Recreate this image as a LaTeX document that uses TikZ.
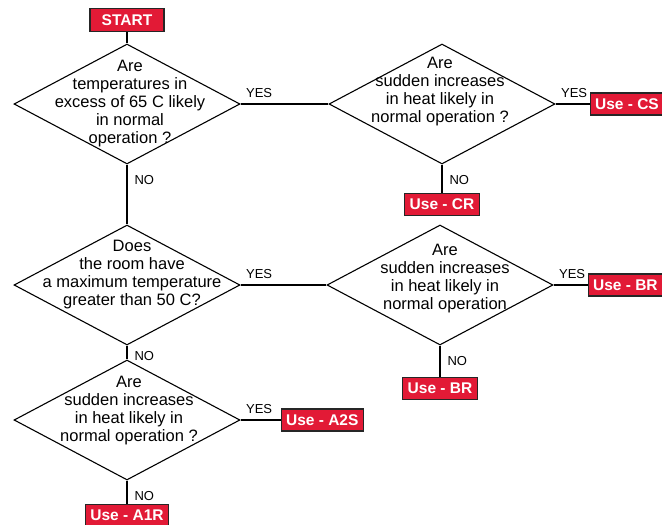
\documentclass[tikz,border=0pt]{standalone}
\usepackage{fontspec}
\setmainfont{Liberation Sans}
\usetikzlibrary{positioning, shapes.geometric}
\definecolor{boxred}{RGB}{226,26,54}

\begin{document}
\begin{tikzpicture}
[x=1pt, y=-1pt,
   decision/.style={shape=diamond, draw, line width=1.1pt, minimum width=226pt,
     minimum height=120pt, inner sep=0pt},
   question/.style={align=center, inner sep=0pt, font=\fontsize{16.5}{18}\selectfont},
   result/.style={shape=rectangle, draw=black!85, line width=1.1pt, fill=boxred,
     text=white, font=\bfseries\fontsize{15.5}{17}\selectfont, minimum height=22pt,
     inner xsep=5pt, inner ysep=0pt},
   link/.style={line width=1.1pt},
   yeslbl/.style={anchor=south west, inner sep=0pt, xshift=5pt, yshift=6pt,
     font=\fontsize{13}{14}\selectfont},
   nolbl/.style={anchor=north west, inner sep=0pt, xshift=7pt, yshift=-10pt,
     font=\fontsize{13}{14}\selectfont}]
\useasboundingbox (0,0) rectangle (662,525);
% questions
\node[decision] (Q1) at (127,104) {};
\node[decision] (Q2) at (442,104) {};
\node[decision] (Q3) at (127,285) {};
\node[decision] (Q4) at (440,285) {};
\node[decision] (Q5) at (127,420) {};
\node[question] (Q1t) at ([xshift=3pt]Q1) {Are\\temperatures in\\excess of 65 C likely\\in normal\\operation ?};
\node[question] (Q2t) at ([xshift=-2pt, yshift=12pt]Q2) {Are\\sudden increases\\in heat likely in\\normal operation ?};
\node[question] (Q3t) at ([xshift=5pt, yshift=10pt]Q3) {Does\\the room have\\a maximum temperature\\greater than 50 C?};
\node[question] (Q4t) at ([xshift=5pt, yshift=6pt]Q4) {Are\\sudden increases\\in heat likely in\\normal operation};
\node[question] (Q5t) at ([xshift=2pt, yshift=9pt]Q5) {Are\\sudden increases\\in heat likely in\\normal operation ?};
% outcomes
\node[result, minimum width=74pt, minimum height=23pt] (start) [above=11pt of Q1] {START};
\node[result] (CS) [right=34pt of Q2] {Use - CS};
\node[result] (CR) [below=28pt of Q2] {Use - CR};
\node[result] (BRa) [right=34pt of Q4] {Use - BR};
\node[result] (BRb) [below=31pt of Q4] {Use - BR};
\node[result] (A2S) [right=40pt of Q5] {Use - A2S};
\node[result] (A1R) [below=23pt of Q5] {Use - A1R};
% links
\draw[link] (start) -- (Q1);
\draw[link] (Q1) -- (Q2) node (y1) [pos=0, yeslbl] {YES};
\draw[link] (Q1) -- (Q3) node (n1) [pos=0, nolbl] {NO};
\draw[link] (Q2) -- (CS) node (y2) [pos=0, yeslbl] {YES};
\draw[link] (Q2) -- (CR) node (n2) [pos=0, nolbl] {NO};
\draw[link] (Q3) -- (Q4) node (y3) [pos=0, yeslbl] {YES};
\draw[link] (Q3) -- (Q5) node (n3) [pos=0, nolbl, yshift=5pt] {NO};
\draw[link] (Q4) -- (BRa) node (y4) [pos=0, yeslbl] {YES};
\draw[link] (Q4) -- (BRb) node (n4) [pos=0, nolbl] {NO};
\draw[link] (Q5) -- (A2S) node (y5) [pos=0, yeslbl] {YES};
\draw[link] (Q5) -- (A1R) node (n5) [pos=0, nolbl] {NO};
\end{tikzpicture}
\end{document}
